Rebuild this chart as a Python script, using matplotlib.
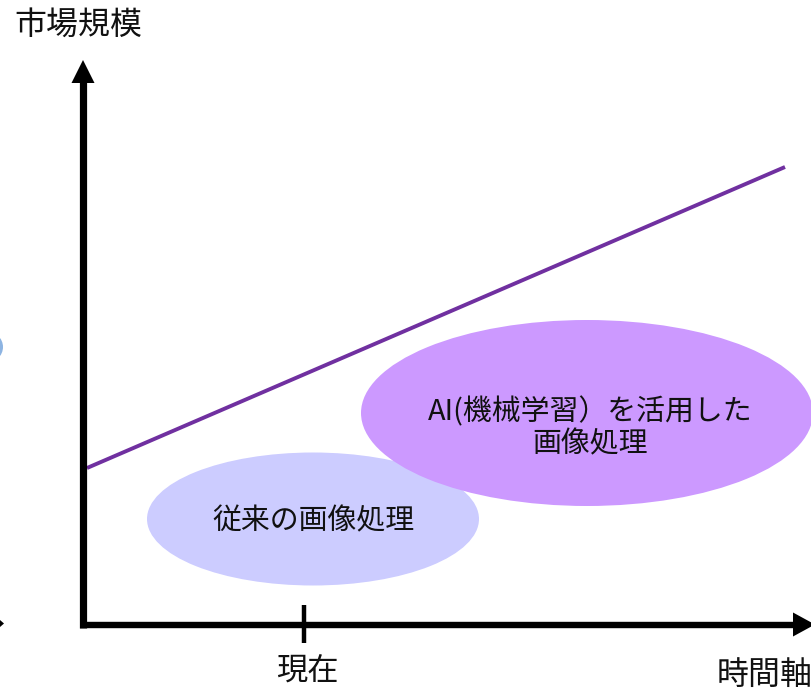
import matplotlib
matplotlib.use("Agg")
import matplotlib.pyplot as plt
from matplotlib.patches import Ellipse, Polygon

plt.rcParams['font.family'] = ['Noto Sans CJK JP', 'DejaVu Sans']

# ---- data (diagram coordinates, pixel-like, y grows downward) ----
y_axis_label = "市場規模"
x_axis_label = "時間軸"
tick_label = "現在"
tick_x = [304]
trend_x = [87, 785]
trend_y = [468, 167]
ellipse_labels = ["従来の画像処理", "AI(機械学習）を活用した\n画像処理"]
ellipse_cx = [313, 587]
ellipse_cy = [519, 413]
ellipse_w = [332, 452]
ellipse_h = [133, 186]
ellipse_colors = ["#CCCCFF", "#CC99FF"]
text_cy = [521, 428]

fig = plt.figure(figsize=(8.12, 6.9), dpi=100)
ax = fig.add_axes([0, 0, 1, 1])
ax.set_xlim(0, 812)
ax.set_ylim(690, 0)
ax.axis('off')

# partial blue circle at left edge
ax.add_patch(Ellipse((-14, 347), 34, 32, facecolor="#8DB4E2", edgecolor="none", zorder=1))
# tiny arrow tip at left edge
ax.add_patch(Polygon([(0, 620), (4, 623.5), (0, 627)], closed=True, facecolor="black", edgecolor="none"))

# ellipses
for i in range(len(ellipse_labels)):
    ax.add_patch(Ellipse((ellipse_cx[i], ellipse_cy[i]), ellipse_w[i], ellipse_h[i],
                         facecolor=ellipse_colors[i], edgecolor="none", zorder=2 + i))
    ax.text(ellipse_cx[i] + (3 if i == 1 else 0), text_cy[i], ellipse_labels[i],
            ha="center", va="center", fontsize=20.8, color="#111111",
            linespacing=1.1, zorder=5)

# trend line
ax.plot(trend_x, trend_y, color="#7030A0", lw=2.8, solid_capstyle="butt", zorder=4)

# axes
ax.plot([83, 83], [628, 82], color="black", lw=5.2, solid_capstyle="butt", zorder=6)
ax.plot([80, 794], [625, 625], color="black", lw=4.6, solid_capstyle="butt", zorder=6)
ax.add_patch(Polygon([(71.5, 83), (83, 60), (94.5, 83)], closed=True, facecolor="black", edgecolor="none", zorder=6))
ax.add_patch(Polygon([(793, 612.5), (815, 624.5), (793, 636.5)], closed=True, facecolor="black", edgecolor="none", zorder=6))

# tick
for tx in tick_x:
    ax.plot([tx, tx], [605, 643], color="black", lw=3.2, solid_capstyle="butt", zorder=6)
    ax.text(tx + 3, 671, tick_label, ha="center", va="center", fontsize=22.5, color="#111111")

ax.text(14, 25, y_axis_label, ha="left", va="center", fontsize=23, color="#111111")
ax.text(717, 675, x_axis_label, ha="left", va="center", fontsize=23, color="#111111")

fig.savefig("out.png", dpi=100)
